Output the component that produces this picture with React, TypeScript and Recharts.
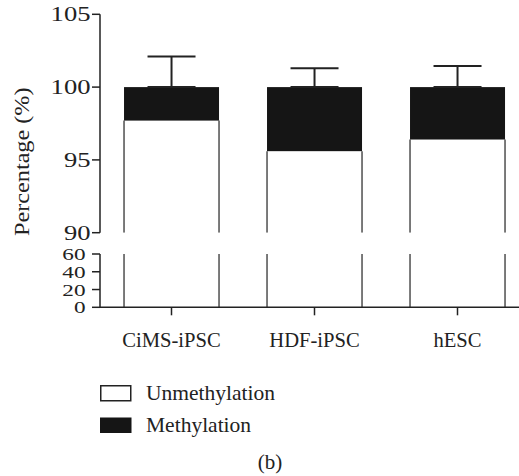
import React from 'react';
import { BarChart, Bar, XAxis, YAxis, ErrorBar } from 'recharts';

const categories = ['CiMS-iPSC', 'HDF-iPSC', 'hESC'];
const unmethylation = [97.7, 95.6, 96.4];
const methylation = [2.3, 4.4, 3.6];
const methylationErr = [2.1, 1.3, 1.45];
const upperTicks = [90, 95, 100, 105];
const lowerTicks = [0, 20, 40, 60];

const data = categories.map((name, i) => ({
  name,
  unmethylation: unmethylation[i],
  methylation: methylation[i],
  err: [0, methylationErr[i]],
}));

const INK = '#222';
const FONT = '"Liberation Serif", "Times New Roman", serif';
const axisLine = { stroke: INK, strokeWidth: 1.5 };

// white part: only the side edges are stroked
const OpenBar = (props: any) => {
  const { x, y, width, height } = props;
  if (!height) return null;
  return (
    <g>
      <rect x={x} y={y} width={width} height={height} fill="#fff" />
      <line x1={x} x2={x} y1={y} y2={y + height} stroke="#333" strokeWidth={1.3} />
      <line x1={x + width} x2={x + width} y1={y} y2={y + height} stroke="#333" strokeWidth={1.3} />
    </g>
  );
};

const FilledBar = (props: any) => {
  const { x, y, width, height } = props;
  if (!height) return null;
  return <rect x={x} y={y} width={width} height={height} fill="#151515" />;
};

// digits in the source are drawn wider than Times, so stretch them horizontally
const UpperTick = (props: any) => {
  const { x, y, payload } = props;
  return (
    <text transform={`translate(${x + 0.5},${y + 7}) scale(1.33,1)`} textAnchor="end"
      fontSize={20} fontFamily={FONT} fill={INK}>
      {payload.value}
    </text>
  );
};

const LowerTick = (props: any) => {
  const { x, y, payload } = props;
  return (
    <text transform={`translate(${x - 4.5},${y + 6}) scale(1.45,1)`} textAnchor="end"
      fontSize={16} fontFamily={FONT} fill={INK}>
      {payload.value}
    </text>
  );
};

const CategoryTick = (props: any) => {
  const { x, y, payload } = props;
  return (
    <text x={x} y={y + 30} textAnchor="middle" fontSize={20.6} fontFamily={FONT} fill={INK}>
      {payload.value}
    </text>
  );
};

export default function App() {
  return (
    <div
      style={{
        position: 'absolute',
        left: 0,
        top: 0,
        width: 519,
        height: 476,
        overflow: 'hidden',
        background: '#fff',
        fontFamily: FONT,
      }}
    >
      {/* upper segment 90-105 */}
      <div style={{ position: 'absolute', left: 0, top: 0 }}>
        <BarChart width={529} height={250} data={data} barCategoryGap="16.8%"
          margin={{ top: 14.3, right: 0, left: 0, bottom: 17.3 }}>
          <XAxis dataKey="name" hide />
          <YAxis
            width={100}
            domain={[90, 105]}
            ticks={upperTicks}
            interval={0}
            allowDataOverflow
            axisLine={axisLine}
            tickLine={axisLine}
            tickSize={8}
            tick={<UpperTick />}
          />
          <Bar dataKey="unmethylation" stackId="a" shape={<OpenBar />} isAnimationActive={false} />
          <Bar dataKey="methylation" stackId="a" shape={<FilledBar />} isAnimationActive={false}>
            <ErrorBar dataKey="err" width={24} stroke={INK} strokeWidth={2} direction="y" />
          </Bar>
        </BarChart>
      </div>

      {/* lower segment 0-60 */}
      <div style={{ position: 'absolute', left: 0, top: 240 }}>
        <BarChart width={529} height={120} data={data} barCategoryGap="16.8%"
          margin={{ top: 14, right: 0, left: 0, bottom: 12.7 }}>
          <XAxis
            dataKey="name"
            height={40}
            axisLine={axisLine}
            tickLine={axisLine}
            tickSize={8}
            tick={<CategoryTick />}
            interval={0}
          />
          <YAxis
            width={100}
            domain={[0, 60]}
            ticks={lowerTicks}
            interval={0}
            allowDataOverflow
            axisLine={axisLine}
            tickLine={axisLine}
            tickSize={8}
            tick={<LowerTick />}
          />
          <Bar dataKey="unmethylation" stackId="a" shape={<OpenBar />} isAnimationActive={false} />
          <Bar dataKey="methylation" stackId="a" shape={<FilledBar />} isAnimationActive={false} />
        </BarChart>
      </div>

      <svg width={519} height={476} style={{ position: 'absolute', left: 0, top: 0, pointerEvents: 'none' }}>
        <text transform="translate(29,161.7) rotate(-90) scale(1.1,1)" textAnchor="middle" fontSize={22}
          fontFamily={FONT} fill={INK}>
          Percentage (%)
        </text>
        <rect x={100.75} y={385.75} width={30} height={15} fill="#fff" stroke={INK} strokeWidth={1.5} />
        <text x={146} y={399.5} fontSize={21.5} fontFamily={FONT} fill={INK}>Unmethylation</text>
        <rect x={100} y={417.5} width={31.5} height={15.5} fill="#151515" />
        <text x={146} y={431.7} fontSize={21.5} fontFamily={FONT} fill={INK}>Methylation</text>
        <text x={270} y={469} textAnchor="middle" fontSize={21} fontFamily={FONT} fill={INK}>(b)</text>
      </svg>
    </div>
  );
}
